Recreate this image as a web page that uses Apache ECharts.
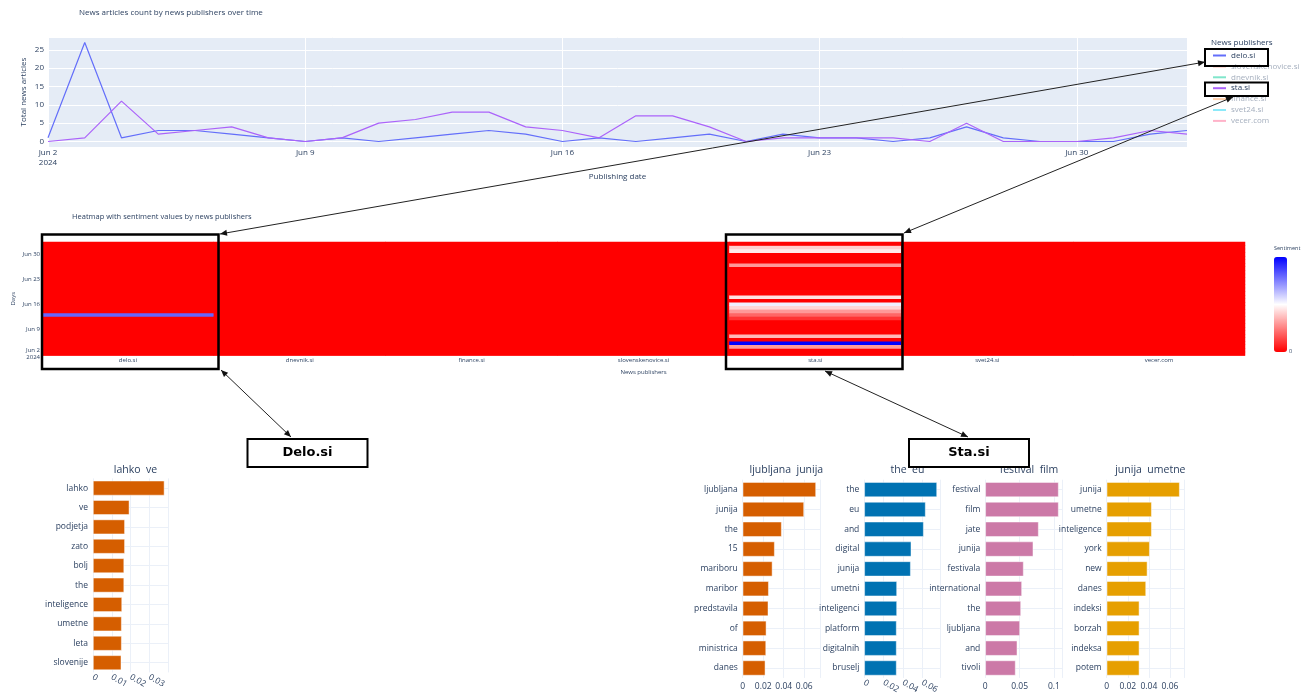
<!DOCTYPE html>
<html>
<head>
<meta charset="utf-8">
<script src="https://cdn.jsdelivr.net/npm/echarts@6/dist/echarts.min.js"></script>
<style>html,body{margin:0;padding:0;background:#fff}#main{width:1302px;height:693px}</style>
</head>
<body>
<div id="main"></div>
<script>
// days on the time axis
var days = ['2024-06-02','2024-06-03','2024-06-04','2024-06-05','2024-06-06','2024-06-07','2024-06-08',
  '2024-06-09','2024-06-10','2024-06-11','2024-06-12','2024-06-13','2024-06-14','2024-06-15',
  '2024-06-16','2024-06-17','2024-06-18','2024-06-19','2024-06-20','2024-06-21','2024-06-22',
  '2024-06-23','2024-06-24','2024-06-25','2024-06-26','2024-06-27','2024-06-28','2024-06-29',
  '2024-06-30','2024-07-01','2024-07-02','2024-07-03'];
var dayTicks = ['2024-06-02','2024-06-09','2024-06-16','2024-06-23','2024-06-30'];
var dayTickLabels = ['Jun 2\n2024','Jun 9','Jun 16','Jun 23','Jun 30'];

// line chart
var publishers = ['delo.si','slovenskenovice.si','dnevnik.si','sta.si','finance.si','svet24.si','vecer.com'];
var publisherColors = ['#636efa','#f7aa9d','#80e6cb','#ab63fa','#ffd0ad','#8ce9f9','#ffb3c9'];
var publisherVisible = [true,false,false,true,false,false,false];
var deloCounts = [1,27,1,3,3,2,1,0,1,0,1,2,3,2,0,1,0,1,2,0,2,1,1,0,1,4,1,0,0,0,2,3];
var staCounts  = [0,1,11,2,3,4,1,0,1,5,6,8,8,4,3,1,7,7,4,0,1,1,1,1,0,5,0,0,0,1,3,2];

// heatmap
var heatPublishers = ['delo.si','dnevnik.si','finance.si','slovenskenovice.si','sta.si','svet24.si','vecer.com'];
var deloSentiment = [0,0,0,0,0,0,0,0,0,0,0,0.8,0,0,0,0,0,0,0,0,0,0,0,0,0,0,0,0,0,0,0,0];
var staSentiment  = [0,0,0.3,1,0,0.36,0,0,0,0,0.1,0.2,0.3,0.42,0.53,0,0.44,0,0,0,0,0,0,0,0,0.3,0,0,0,0.46,0.4,0];
var zeroSentiment = [0,0,0,0,0,0,0,0,0,0,0,0,0,0,0,0,0,0,0,0,0,0,0,0,0,0,0,0,0,0,0,0];

// topic bar charts
var deloWords  = ['lahko','ve','podjetja','zato','bolj','the','inteligence','umetne','leta','slovenije'];
var deloScores = [0.0381,0.0194,0.0170,0.0170,0.0166,0.0166,0.0155,0.0153,0.0153,0.0151];
var staWords1  = ['ljubljana','junija','the','15','mariboru','maribor','predstavila','of','ministrica','danes'];
var staScores1 = [0.0715,0.0598,0.0380,0.0312,0.0290,0.0254,0.0250,0.0231,0.0228,0.0221];
var staWords2  = ['the','eu','and','digital','junija','umetni','inteligenci','platform','digitalnih','bruselj'];
var staScores2 = [0.0752,0.0634,0.0614,0.0486,0.0480,0.0338,0.0338,0.0334,0.0334,0.0334];
var staWords3  = ['festival','film','jate','junija','festivala','international','the','ljubljana','and','tivoli'];
var staScores3 = [0.1068,0.1068,0.0777,0.0699,0.0558,0.0534,0.0520,0.0505,0.0466,0.0441];
var staWords4  = ['junija','umetne','inteligence','york','new','danes','indeksi','borzah','indeksa','potem'];
var staScores4 = [0.0692,0.0427,0.0427,0.0408,0.0386,0.0373,0.0310,0.0310,0.0310,0.0310];

var FONT = 'Open Sans';
var INK = '#2a3f5f';

function dayLabel(v) {
  var i = dayTicks.indexOf(v);
  return i < 0 ? '' : dayTickLabels[i];
}

var grids = [
  {left: 48, top: 37, width: 1139, height: 110, show: true, backgroundColor: '#e5ecf6', borderWidth: 0},
  // red backdrop hides antialiasing seams between heatmap cells
  {left: 42, top: 242, width: 1203, height: 113.5, show: true, backgroundColor: '#ff0000', borderWidth: 0}
];
var xAxes = [
  {gridIndex: 0, type: 'category', data: days, boundaryGap: false,
    axisLine: {show: false}, axisTick: {show: false},
    axisLabel: {interval: 6, formatter: dayLabel, fontSize: 8, lineHeight: 10, color: INK, fontFamily: FONT, margin: 1},
    splitLine: {show: true, interval: 6, lineStyle: {color: '#fff', width: 1}},
    name: 'Publishing date', nameLocation: 'middle', nameGap: 26, nameMoveOverlap: false,
    nameTextStyle: {fontSize: 8, color: INK, fontFamily: FONT}},
  {gridIndex: 1, type: 'category', data: heatPublishers,
    axisLine: {show: false}, axisTick: {show: false},
    axisLabel: {fontSize: 6, color: INK, fontFamily: FONT, margin: 2},
    name: 'News publishers', nameLocation: 'middle', nameGap: 14, nameMoveOverlap: false,
    nameTextStyle: {fontSize: 6, color: INK, fontFamily: FONT}}
];
var yAxes = [
  {gridIndex: 0, type: 'value', min: -1.5, max: 28.5, splitNumber: 6,
    axisLine: {show: false}, axisTick: {show: false},
    axisLabel: {fontSize: 8, color: INK, fontFamily: FONT, margin: 4,
      formatter: function (v) { return v % 5 === 0 ? v : ''; }},
    splitLine: {lineStyle: {color: '#fff', width: 1}},
    name: 'Total news articles', nameLocation: 'middle', nameGap: 20, nameMoveOverlap: false,
    nameTextStyle: {fontSize: 8, color: INK, fontFamily: FONT}},
  {gridIndex: 1, type: 'category', data: days,
    axisLine: {show: false}, axisTick: {show: false},
    axisLabel: {interval: 6, formatter: dayLabel, fontSize: 6, lineHeight: 6.5, color: INK, fontFamily: FONT, margin: 2},
    name: 'Days', nameLocation: 'middle', nameGap: 26, nameMoveOverlap: false,
    nameTextStyle: {fontSize: 6, color: INK, fontFamily: FONT}}
];

var series = [];
var legendData = [];
publishers.forEach(function (p, i) {
  var values = p === 'delo.si' ? deloCounts : (p === 'sta.si' ? staCounts : []);
  series.push({
    name: p, type: 'line', xAxisIndex: 0, yAxisIndex: 0,
    data: values, symbol: 'none', color: publisherColors[i],
    lineStyle: {width: 1.2, color: publisherColors[i]}
  });
  legendData.push({name: p, textStyle: {color: publisherVisible[i] ? INK : '#a5afbe'}});
});

var heatData = [];
heatPublishers.forEach(function (p, xi) {
  var vals = p === 'delo.si' ? deloSentiment : (p === 'sta.si' ? staSentiment : zeroSentiment);
  vals.forEach(function (v, yi) { heatData.push([xi, yi, v]); });
});
series.push({type: 'heatmap', xAxisIndex: 1, yAxisIndex: 1, data: heatData, progressive: 0});

var titles = [
  {text: 'News articles count by news publishers over time', left: 74, top: 4,
    textStyle: {fontSize: 8, fontWeight: 'normal', color: INK, fontFamily: FONT}},
  {text: 'Heatmap with sentiment values by news publishers', left: 67, top: 208,
    textStyle: {fontSize: 7.5, fontWeight: 'normal', color: INK, fontFamily: FONT}}
];

function addBars(left, top, width, height, words, scores, color, max, interval, rotate, title) {
  var gi = grids.length;
  grids.push({left: left, top: top, width: width, height: height});
  xAxes.push({gridIndex: gi, type: 'value', min: 0, max: max, interval: interval,
    axisLine: {show: false}, axisTick: {show: false},
    axisLabel: {fontSize: 8.5, color: INK, fontFamily: FONT, margin: 4, rotate: rotate, showMaxLabel: false},
    splitLine: {lineStyle: {color: '#ebf0f8'}}});
  yAxes.push({gridIndex: gi, type: 'category', data: words, inverse: true,
    axisLine: {show: false}, axisTick: {show: false},
    axisLabel: {fontSize: 8.5, color: INK, fontFamily: FONT, margin: 5},
    splitLine: {show: true, alignWithLabel: true, lineStyle: {color: '#ebf0f8'}}});
  series.push({type: 'bar', xAxisIndex: gi, yAxisIndex: gi, data: scores, barCategoryGap: '24%',
    itemStyle: {color: color, borderColor: 'rgba(255,255,255,0.8)', borderWidth: 0.6}});
  titles.push({text: title, left: left + width / 2, top: 460, textAlign: 'center',
    textStyle: {fontSize: 10.5, fontWeight: 'normal', color: INK, fontFamily: FONT}});
}
addBars(93, 478.4, 75, 194, deloWords, deloScores, '#D55E00', 0.04, 0.01, -30, 'lahko  ve');
addBars(742.7, 479.7, 77.3, 198.2, staWords1, staScores1, '#D55E00', 0.0754, 0.02, 0, 'ljubljana  junija');
addBars(864.3, 479.7, 76.4, 198.2, staWords2, staScores2, '#0072B2', 0.079, 0.02, -30, 'the  eu');
addBars(985.3, 479.7, 77.3, 198.2, staWords3, staScores3, '#CC79A7', 0.1126, 0.05, 0, 'festival  film');
addBars(1106.7, 479.7, 77.3, 198.2, staWords4, staScores4, '#E69F00', 0.0733, 0.02, 0, 'junija  umetne');

grids.forEach(function (g) { g.outerBoundsMode = 'none'; g.containLabel = false; });

// annotation boxes and arrows
function box(x1, y1, x2, y2, w) {
  return {type: 'rect', z: 100, shape: {x: x1, y: y1, width: x2 - x1, height: y2 - y1},
    style: {fill: 'none', stroke: '#000', lineWidth: w || 2.5}};
}
function head(tx, ty, fx, fy) {
  var a = Math.atan2(ty - fy, tx - fx), L = 7, W = 3;
  var bx = tx - L * Math.cos(a), by = ty - L * Math.sin(a);
  return {type: 'polygon', z: 100,
    shape: {points: [[tx, ty], [bx - W * Math.sin(a), by + W * Math.cos(a)], [bx + W * Math.sin(a), by - W * Math.cos(a)]]},
    style: {fill: '#111'}};
}
function arrow(x1, y1, x2, y2) {
  return [
    {type: 'line', z: 100, shape: {x1: x1, y1: y1, x2: x2, y2: y2}, style: {stroke: '#222', lineWidth: 1}},
    head(x1, y1, x2, y2), head(x2, y2, x1, y1)
  ];
}
function labelBox(x1, y1, x2, y2, text) {
  return [
    {type: 'rect', z: 100, shape: {x: x1, y: y1, width: x2 - x1, height: y2 - y1},
      style: {fill: '#fff', stroke: '#000', lineWidth: 2}},
    {type: 'text', z: 101, x: (x1 + x2) / 2, y: (y1 + y2) / 2,
      style: {text: text, font: 'bold 13px "DejaVu Sans"', fill: '#000', textAlign: 'center', textVerticalAlign: 'middle'}}
  ];
}

var graphics = [
  {type: 'text', left: 1211, top: 39, style: {text: 'News publishers', font: '8px "Open Sans"', fill: INK}},
  {type: 'text', left: 1274, top: 245, style: {text: 'Sentiment', font: '5.5px "Open Sans"', fill: INK}},
  {type: 'text', left: 1289, top: 348, style: {text: '0', font: '5.5px "Open Sans"', fill: INK}},
  box(42, 234.5, 218.5, 369),
  box(726, 234.5, 902.5, 369),
  box(1205, 49, 1268, 66, 2),
  box(1205, 82.5, 1268, 96, 2)
].concat(
  arrow(220, 234, 1205, 62),
  arrow(904, 233, 1233, 97),
  arrow(221, 370, 291, 437),
  arrow(825, 371, 968, 437),
  labelBox(247.5, 439, 367.5, 467, 'Delo.si'),
  labelBox(909, 439, 1029, 467, 'Sta.si')
);

var chart = echarts.init(document.getElementById('main'), null, {renderer: 'canvas'});
chart.setOption({
  animation: false,
  backgroundColor: '#fff',
  textStyle: {fontFamily: FONT},
  title: titles,
  legend: {
    orient: 'vertical', left: 1212, top: 51, padding: 0,
    itemWidth: 13, itemHeight: 9, itemGap: 1.9,
    itemStyle: {opacity: 0},
    textStyle: {fontSize: 8, color: INK, fontFamily: FONT, lineHeight: 9},
    data: legendData, selectedMode: false
  },
  visualMap: {
    type: 'continuous', seriesIndex: 7, min: 0, max: 1, calculable: false,
    orient: 'vertical', left: 1274, top: 257, itemWidth: 13, itemHeight: 95, padding: 0,
    inRange: {color: ['#ff0000', '#ffffff', '#0000ff']}, text: null
  },
  grid: grids,
  xAxis: xAxes,
  yAxis: yAxes,
  series: series,
  graphic: graphics
});
</script>
</body>
</html>
